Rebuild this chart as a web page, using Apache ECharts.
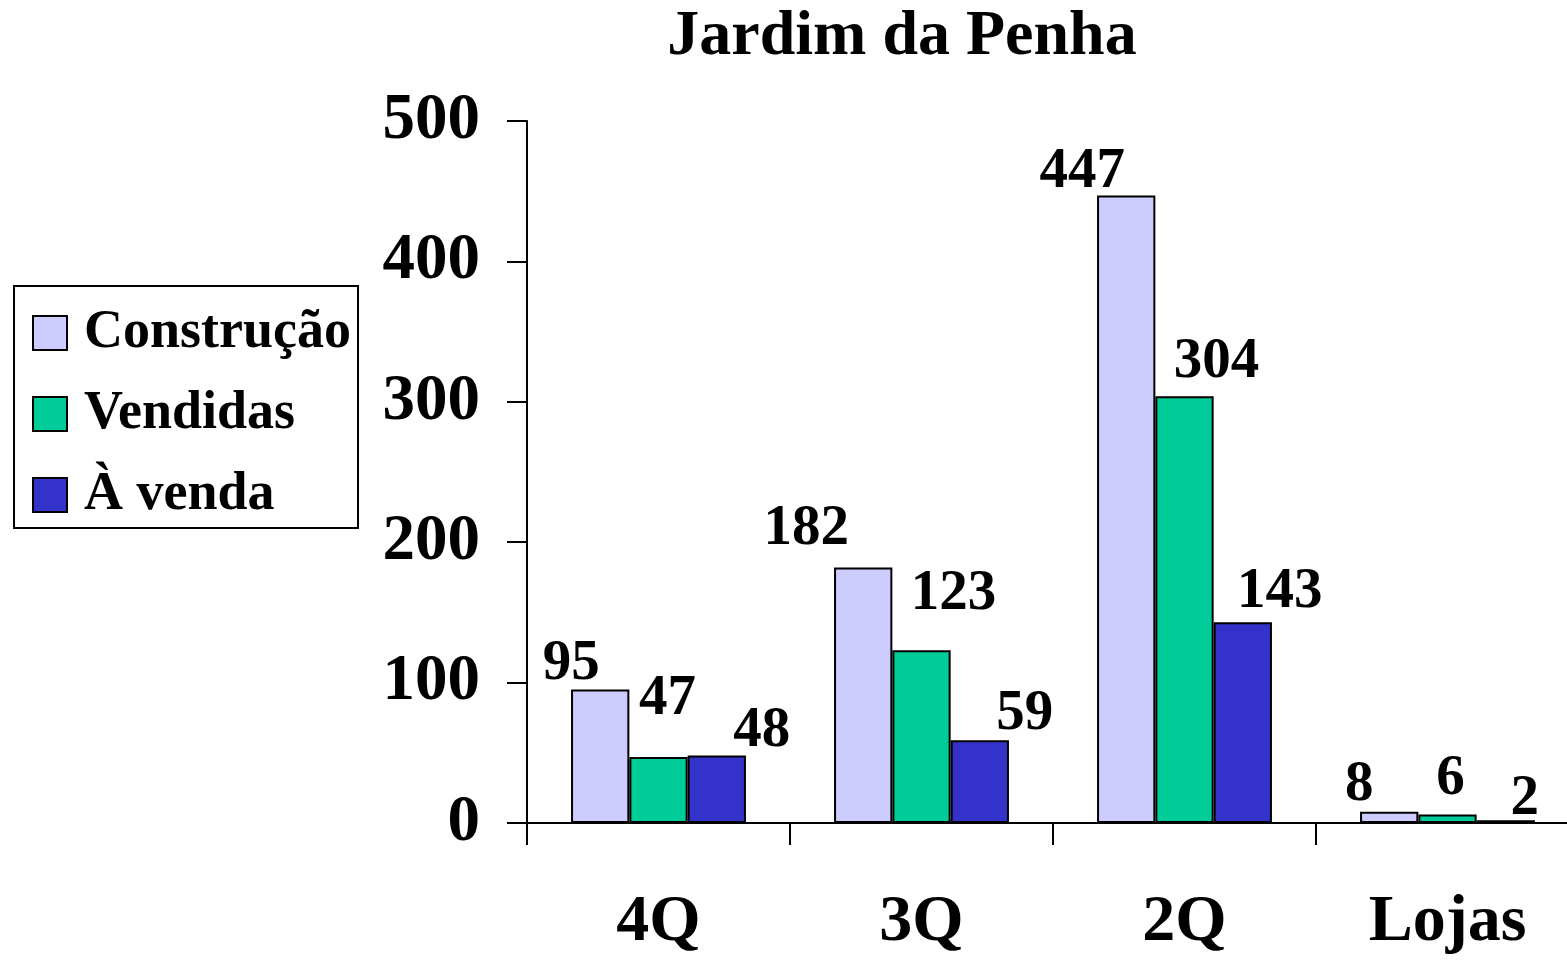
<!DOCTYPE html>
<html>
<head>
<meta charset="utf-8">
<script src="https://cdn.jsdelivr.net/npm/echarts@6/dist/echarts.min.js"></script>
<style>html,body{margin:0;padding:0;background:#fff}#c{width:1567px;height:961px}</style>
</head>
<body>
<div id="c"></div>
<script>
const titleText = 'Jardim da Penha';
const categories = ['4Q', '3Q', '2Q', 'Lojas'];
const seriesNames = ['Construção', 'Vendidas', 'À venda'];
const construcao = [95, 182, 447, 8];
const vendidas = [47, 123, 304, 6];
const aVenda = [48, 59, 143, 2];
const yTicks = [0, 100, 200, 300, 400, 500];

// label nudges (styling only)
const labelOffsets = [
  [[-29, 3], [-57, -10], [-44, 5], [-30, 2]],
  [[9, -29], [32, -28], [32, -5], [3, -7]],
  [[45, 4], [45, 3], [37, -1], [19, 8]]
];
const colors = ['#CCCCFF', '#00CC99', '#3333CC'];
const FONT = '"Liberation Serif", "Times New Roman", serif';
const allData = [construcao, vendidas, aVenda];

const chart = echarts.init(document.getElementById('c'));
chart.setOption({
  animation: false,
  backgroundColor: '#fff',
  title: {
    text: titleText, left: 897, textAlign: 'center', top: 0,
    textStyle: { fontFamily: FONT, fontWeight: 'bold', fontSize: 64, color: '#000' }
  },
  legend: {
    orient: 'vertical', left: 14, top: 286,
    padding: [20, 7, 6, 18],
    borderColor: '#000', borderWidth: 2,
    itemWidth: 34, itemHeight: 34, itemGap: 27,
    icon: 'rect',
    textStyle: { fontFamily: FONT, fontWeight: 'bold', fontSize: 54, color: '#000', padding: [0, 0, 0, 12] },
    data: seriesNames
  },
  grid: { left: 527, width: 1052, top: 121, bottom: 138, containLabel: false, outerBoundsMode: 'none' },
  xAxis: {
    type: 'category', data: categories,
    axisLine: { lineStyle: { color: '#000', width: 2 } },
    axisTick: { show: true, length: 22, lineStyle: { color: '#000', width: 2 } },
    axisLabel: { fontFamily: FONT, fontWeight: 'bold', fontSize: 66, color: '#000', margin: 67 }
  },
  yAxis: {
    type: 'value', min: yTicks[0], max: yTicks[yTicks.length - 1], interval: 100,
    splitLine: { show: false },
    axisLine: { show: true, lineStyle: { color: '#000', width: 2 } },
    axisTick: { show: true, length: 20, lineStyle: { color: '#000', width: 2 } },
    axisLabel: { fontFamily: FONT, fontWeight: 'bold', fontSize: 65, color: '#000', margin: 47 }
  },
  series: seriesNames.map((name, si) => ({
    name, type: 'bar', barGap: '0%', barCategoryGap: '33.5%',
    itemStyle: { color: colors[si], borderColor: '#000', borderWidth: 2 },
    label: { show: true, position: 'top', distance: 0, fontFamily: FONT, fontWeight: 'bold', fontSize: 57, color: '#000' },
    data: allData[si].map((v, i) => ({ value: v, label: { offset: labelOffsets[si][i] } }))
  }))
});
</script>
</body>
</html>
